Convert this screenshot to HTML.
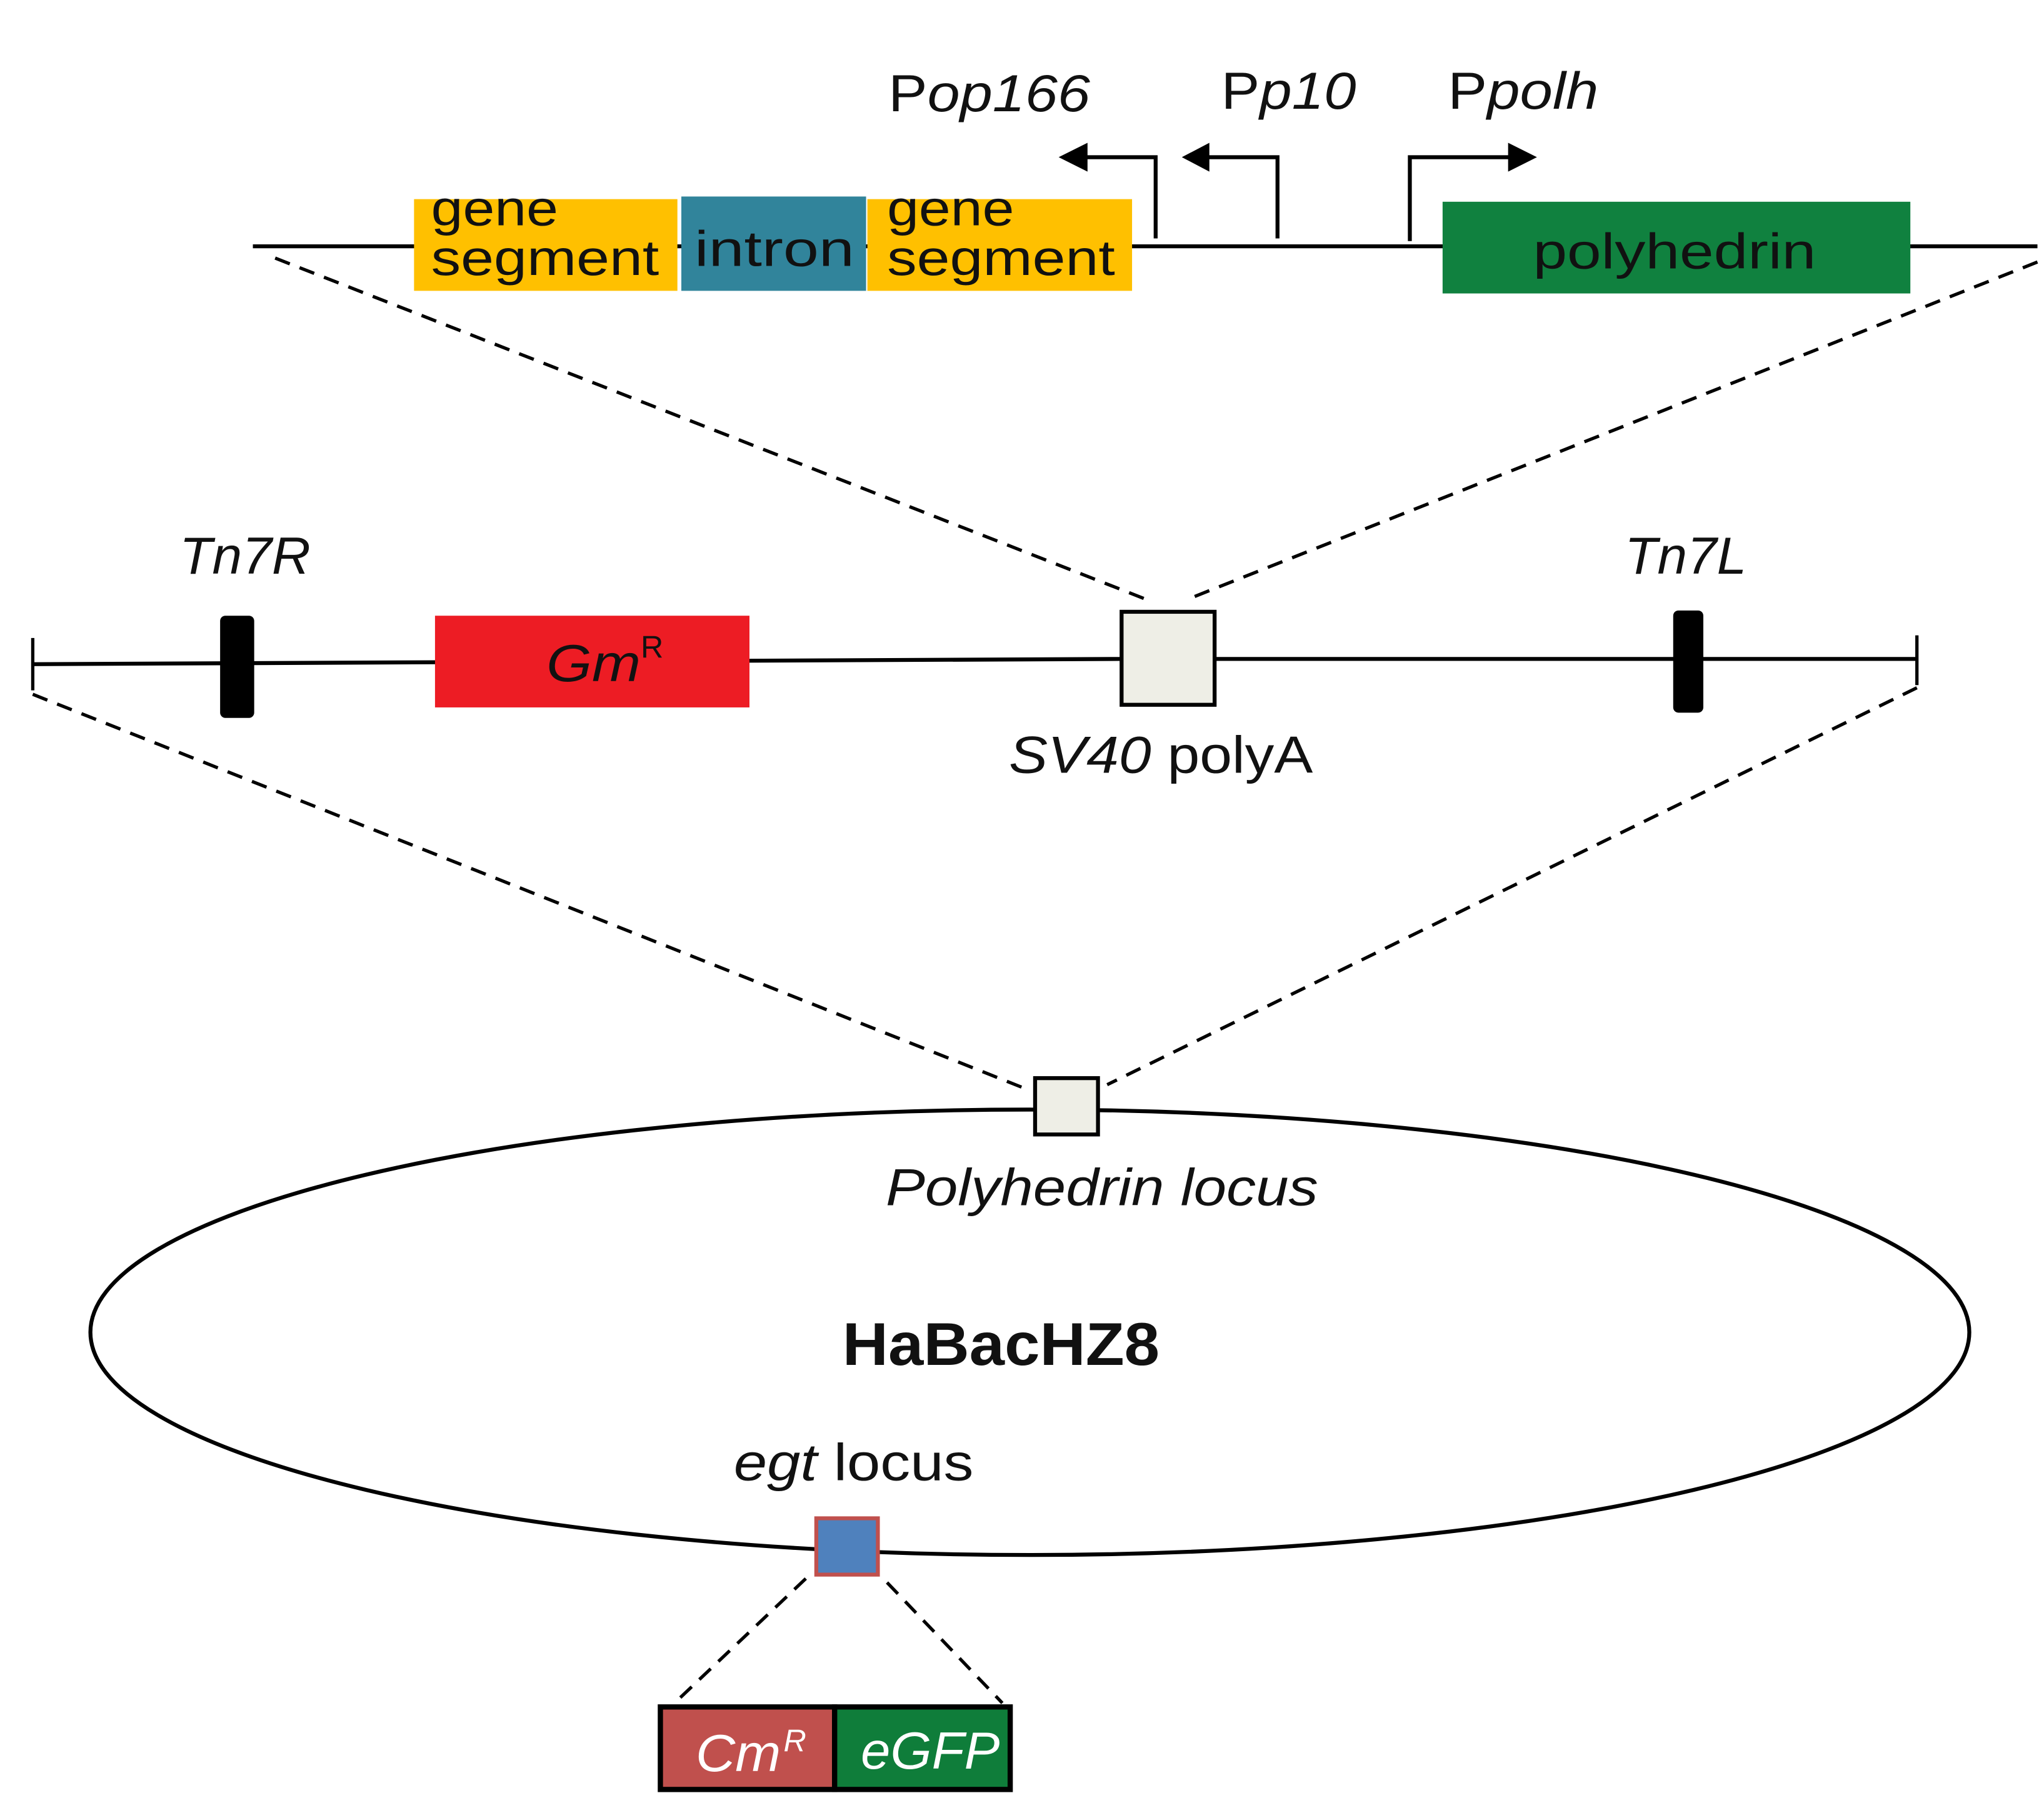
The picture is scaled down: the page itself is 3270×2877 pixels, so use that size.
<!DOCTYPE html>
<html><head><meta charset="utf-8"><style>
html,body{margin:0;padding:0;background:#fff;}
svg{display:block;}
text{font-family:"Liberation Sans",sans-serif;}
</style></head><body>
<svg width="3270" height="2877" viewBox="0 0 1560 1372.5" xmlns="http://www.w3.org/2000/svg">
<rect width="1560" height="1373" fill="#fff"/>
<!-- top construct -->
<line x1="193" y1="188" x2="1555" y2="188" stroke="#000" stroke-width="3"/>
<rect x="316" y="152" width="201" height="70" fill="#FFC000"/>
<rect x="520" y="150" width="141" height="72" fill="#31849B"/>
<rect x="662" y="152" width="202" height="70" fill="#FFC000"/>
<rect x="1101" y="154" width="357" height="70" fill="#10813F"/>
<g font-size="38" fill="#111">
<text x="329" y="172" textLength="97" lengthAdjust="spacingAndGlyphs">gene</text>
<text x="329" y="210" textLength="174" lengthAdjust="spacingAndGlyphs">segment</text>
<text x="530" y="203" textLength="122" lengthAdjust="spacingAndGlyphs">intron</text>
<text x="677" y="172" textLength="97" lengthAdjust="spacingAndGlyphs">gene</text>
<text x="677" y="210" textLength="174" lengthAdjust="spacingAndGlyphs">segment</text>
<text x="1170" y="205" textLength="216" lengthAdjust="spacingAndGlyphs">polyhedrin</text>
</g>
<!-- promoters -->
<g stroke="#000" stroke-width="3" fill="none">
<polyline points="882,182 882,120 826,120"/>
<polyline points="975,182 975,120 920,120"/>
<polyline points="1076,184 1076,120 1154,120"/>
</g>
<polygon points="808,120 830,109 830,131" fill="#000"/>
<polygon points="902,120 923,109 923,131" fill="#000"/>
<polygon points="1173,120 1151,109 1151,131" fill="#000"/>
<g font-size="40" fill="#111">
<text x="678" y="85" textLength="154" lengthAdjust="spacingAndGlyphs">P<tspan font-style="italic">op166</tspan></text>
<text x="932" y="83" textLength="103" lengthAdjust="spacingAndGlyphs">P<tspan font-style="italic">p10</tspan></text>
<text x="1105" y="83" textLength="115" lengthAdjust="spacingAndGlyphs">P<tspan font-style="italic">polh</tspan></text>
</g>
<!-- dashed connectors -->
<g stroke="#000" stroke-width="2.5" fill="none" stroke-dasharray="12,8">
<line x1="210" y1="197" x2="876" y2="458"/>
<line x1="1555" y1="200" x2="905" y2="458"/>
<line x1="25" y1="530" x2="780" y2="830"/>
<line x1="1463" y1="525" x2="845" y2="828"/>
<line x1="615" y1="1205" x2="518" y2="1297"/>
<line x1="677" y1="1208" x2="765" y2="1300"/>
</g>
<!-- middle construct -->
<line x1="25" y1="507" x2="855" y2="503" stroke="#000" stroke-width="3"/>
<line x1="855" y1="503" x2="1463" y2="503" stroke="#000" stroke-width="3"/>
<line x1="25" y1="487" x2="25" y2="527" stroke="#000" stroke-width="2.5"/>
<line x1="1463" y1="485" x2="1463" y2="523" stroke="#000" stroke-width="2.5"/>
<rect x="168" y="470" width="26" height="78" rx="4" fill="#000"/>
<rect x="1277" y="466" width="23" height="78" rx="4" fill="#000"/>
<rect x="332" y="470" width="240" height="70" fill="#ED1C24"/>
<rect x="856" y="467" width="71" height="71" fill="#EEEEE6" stroke="#000" stroke-width="3"/>
<g font-size="40" fill="#111">
<text x="417" y="520" font-style="italic" textLength="72" lengthAdjust="spacingAndGlyphs">Gm</text>
<text x="489" y="502" font-size="24">R</text>
<text x="137" y="438" font-style="italic" textLength="100" lengthAdjust="spacingAndGlyphs">Tn7R</text>
<text x="1240" y="438" font-style="italic" textLength="93" lengthAdjust="spacingAndGlyphs">Tn7L</text>
<text x="770" y="590" textLength="232" lengthAdjust="spacingAndGlyphs"><tspan font-style="italic">SV40</tspan> polyA</text>
</g>
<!-- genome -->
<ellipse cx="786" cy="1017" rx="717" ry="170" fill="none" stroke="#000" stroke-width="3"/>
<rect x="790" y="823" width="48" height="43" fill="#EEEEE6" stroke="#000" stroke-width="3"/>
<rect x="623" y="1159" width="47" height="43" fill="#4F81BD" stroke="#C0504D" stroke-width="3"/>
<g font-size="40" fill="#111">
<text x="676" y="920" font-style="italic" textLength="330" lengthAdjust="spacingAndGlyphs">Polyhedrin locus</text>
<text x="643" y="1042" font-weight="bold" font-size="46" textLength="242" lengthAdjust="spacingAndGlyphs">HaBacHZ8</text>
<text x="560" y="1130" textLength="183" lengthAdjust="spacingAndGlyphs"><tspan font-style="italic">egt</tspan> locus</text>
</g>
<rect x="504" y="1303" width="133" height="63" fill="#C0504D" stroke="#000" stroke-width="4"/>
<rect x="637" y="1303" width="134" height="63" fill="#0F7D3A" stroke="#000" stroke-width="4"/>
<g font-size="40" fill="#fff" font-style="italic">
<text x="531" y="1352" textLength="65" lengthAdjust="spacingAndGlyphs">Cm</text>
<text x="598" y="1337" font-size="24">R</text>
<text x="657" y="1350" textLength="106" lengthAdjust="spacingAndGlyphs">eGFP</text>
</g>
</svg>
</body></html>
